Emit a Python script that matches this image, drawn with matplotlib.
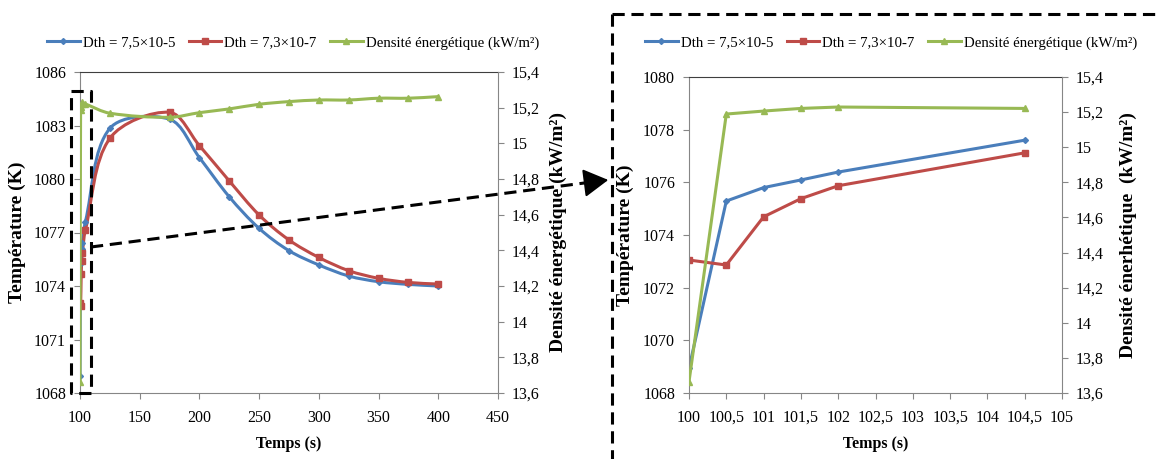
import numpy as np
import matplotlib.pyplot as plt
from matplotlib.lines import Line2D
from matplotlib.path import Path
from matplotlib.patches import PathPatch, FancyArrowPatch
from matplotlib.ticker import FuncFormatter, MultipleLocator

# data
temps = [100, 100.5, 101, 101.5, 102, 104.5, 125, 175, 200, 225, 250, 275, 300, 325, 350, 375, 400]
t_dth_75 = [1068.94, 1075.29, 1075.80, 1076.09, 1076.39, 1077.60, 1082.84, 1083.35, 1081.20,
            1079.00, 1077.23, 1075.98, 1075.18, 1074.56, 1074.24, 1074.09, 1074.00]
t_dth_73 = [1073.05, 1072.86, 1074.69, 1075.38, 1075.87, 1077.12, 1082.28, 1083.74, 1081.87,
            1079.89, 1077.98, 1076.58, 1075.60, 1074.86, 1074.43, 1074.20, 1074.11]
densite = [13.664, 15.189, 15.206, 15.221, 15.229, 15.221, 15.169, 15.146, 15.172,
           15.193, 15.219, 15.234, 15.243, 15.243, 15.253, 15.253, 15.262]
n_zoom = 6  # first points shown in the zoomed chart

labels = ['Dth = 7,5\u00d710-5', 'Dth = 7,3\u00d710-7', 'Densit\u00e9 \u00e9nerg\u00e9tique (kW/m\u00b2)']
BLUE, RED, GREEN = '#4A7EBB', '#BE4B48', '#98B954'
GREY = '#868686'

plt.rcParams['font.family'] = ['Liberation Serif', 'DejaVu Serif']

W, H = 1156, 459
fig = plt.figure(figsize=(W / 100, H / 100), dpi=100)


def comma(v, pos):
    return f"{round(v, 2):g}".replace('.', ',')


def style_axes(ax, ax2):
    for s in ['left', 'bottom', 'right']:
        ax.spines[s].set_color(GREY)
    ax.spines['top'].set_color('#3f3f3f')
    ax.spines['right'].set_visible(False)
    for s in ['left', 'top', 'bottom']:
        ax2.spines[s].set_visible(False)
    ax2.spines['right'].set_color(GREY)
    ax.tick_params(axis='both', direction='out', length=4, color=GREY, labelsize=11.5)
    ax.tick_params(axis='x', pad=8)
    ax.tick_params(axis='y', pad=6)
    ax2.tick_params(axis='y', direction='out', length=4, color=GREY, labelsize=11.5, pad=6)
    ax2.yaxis.set_major_formatter(FuncFormatter(comma))
    ax.xaxis.set_major_formatter(FuncFormatter(comma))


def smooth_curve(ax, x, y, **kw):
    """ Excel-like smoothed line, control points computed in screen space """
    pts = ax.transData.transform(np.column_stack([x, y]))
    n = len(pts)
    verts = [pts[0]]
    codes = [Path.MOVETO]
    for i in range(n - 1):
        p0, p1 = pts[max(i - 1, 0)], pts[i]
        p2, p3 = pts[i + 1], pts[min(i + 2, n - 1)]
        d01, d12, d23 = (np.linalg.norm(p1 - p0), np.linalg.norm(p2 - p1),
                         np.linalg.norm(p3 - p2))
        f1 = d12 / (d01 + d12) / 1.5 if d01 + d12 > 0 else 0
        f2 = d12 / (d12 + d23) / 1.5 if d12 + d23 > 0 else 0
        c1 = p1 + (p2 - p0) * f1 / 2
        c2 = p2 - (p3 - p1) * f2 / 2
        verts += [c1, c2, p2]
        codes += [Path.CURVE4] * 3
    verts = ax.transData.inverted().transform(np.array(verts))
    ax.add_patch(PathPatch(Path(verts, codes), fill=False, **kw))


# ---- left chart
ax1 = fig.add_axes([80 / W, 1 - 393 / H, 418 / W, 321 / H])
ax2 = ax1.twinx()
ax1.set_xlim(100, 450)
ax1.set_ylim(1068, 1086)
ax2.set_ylim(13.6, 15.4)
ax1.xaxis.set_major_locator(MultipleLocator(50))
ax1.yaxis.set_major_locator(MultipleLocator(3))
ax2.yaxis.set_major_locator(MultipleLocator(0.2))
style_axes(ax1, ax2)

smooth_curve(ax1, temps, t_dth_75, color=BLUE, lw=2.2)
smooth_curve(ax1, temps, t_dth_73, color=RED, lw=2.2)
smooth_curve(ax2, temps, densite, color=GREEN, lw=2.2)
ax1.plot(temps, t_dth_75, ls='none', marker='D', ms=3, color=BLUE)
ax1.plot(temps, t_dth_73, ls='none', marker='s', ms=4.5, color=RED)
ax2.plot(temps, densite, ls='none', marker='^', ms=4.5, color=GREEN)

ax1.set_xlabel('Temps (s)', fontweight='bold', fontsize=11.5)
ax1.set_ylabel('Temp\u00e9rature (K)', fontweight='bold', fontsize=14)
ax2.set_ylabel('Densit\u00e9 \u00e9nerg\u00e9tique (kW/m\u00b2)', fontweight='bold', fontsize=14)
ax1.xaxis.set_label_coords(0.5, -0.135)
ax1.yaxis.set_label_coords(-0.129, 0.5)
ax2.yaxis.set_label_coords(1.124, 0.5)

# ---- zoomed chart
ax3 = fig.add_axes([689 / W, 1 - 393 / H, 373 / W, 316 / H])
ax4 = ax3.twinx()
ax3.set_xlim(100, 105)
ax3.set_ylim(1068, 1080)
ax4.set_ylim(13.6, 15.4)
ax3.xaxis.set_major_locator(MultipleLocator(0.5))
ax3.yaxis.set_major_locator(MultipleLocator(2))
ax4.yaxis.set_major_locator(MultipleLocator(0.2))
style_axes(ax3, ax4)

ax3.plot(temps[:n_zoom], t_dth_75[:n_zoom], color=BLUE, lw=2.2, marker='D', ms=3)
ax3.plot(temps[:n_zoom], t_dth_73[:n_zoom], color=RED, lw=2.2, marker='s', ms=4.5)
ax4.plot(temps[:n_zoom], densite[:n_zoom], color=GREEN, lw=2.2, marker='^', ms=4.5)

ax3.set_xlabel('Temps (s)', fontweight='bold', fontsize=11.5)
ax3.set_ylabel('Temp\u00e9rature (K)', fontweight='bold', fontsize=14)
ax4.set_ylabel('Densit\u00e9 \u00e9nerh\u00e9tique  (kW/m\u00b2)', fontweight='bold', fontsize=14)
ax3.xaxis.set_label_coords(0.5, -0.136)
ax3.yaxis.set_label_coords(-0.147, 0.5)
ax4.yaxis.set_label_coords(1.155, 0.5)

# legends
handles = [Line2D([], [], color=BLUE, lw=2.2, marker='D', ms=3),
           Line2D([], [], color=RED, lw=2.2, marker='s', ms=4),
           Line2D([], [], color=GREEN, lw=2.2, marker='^', ms=4)]
for cx in (293, 891):
    fig.legend(handles, labels, loc='center', bbox_to_anchor=(cx / W, 1 - 43 / H), ncol=3,
               frameon=False, fontsize=10.7, handlelength=2.2, handletextpad=0.2,
               columnspacing=0.9, numpoints=1)


# dashed zoom annotations, in figure pixels
def fig_line(xs, ys):
    fig.add_artist(Line2D([x / W for x in xs], [1 - y / H for y in ys], transform=fig.transFigure,
                          color='black', lw=2.2, ls=(0, (4, 2.2))))


fig_line([71, 91, 91, 71, 71], [91, 91, 393, 393, 91])
fig_line([91, 592], [247, 182])
fig_line([612, 1156], [14, 14])
fig_line([612, 612], [14, 459])
fig.add_artist(FancyArrowPatch((590 / W, 1 - 182.3 / H), (611 / W, 1 - 179.6 / H),
                               transform=fig.transFigure, arrowstyle='-|>,head_length=7,head_width=4',
                               color='black', lw=1.5, mutation_scale=2.2))

fig.savefig('out.png', dpi=100)
